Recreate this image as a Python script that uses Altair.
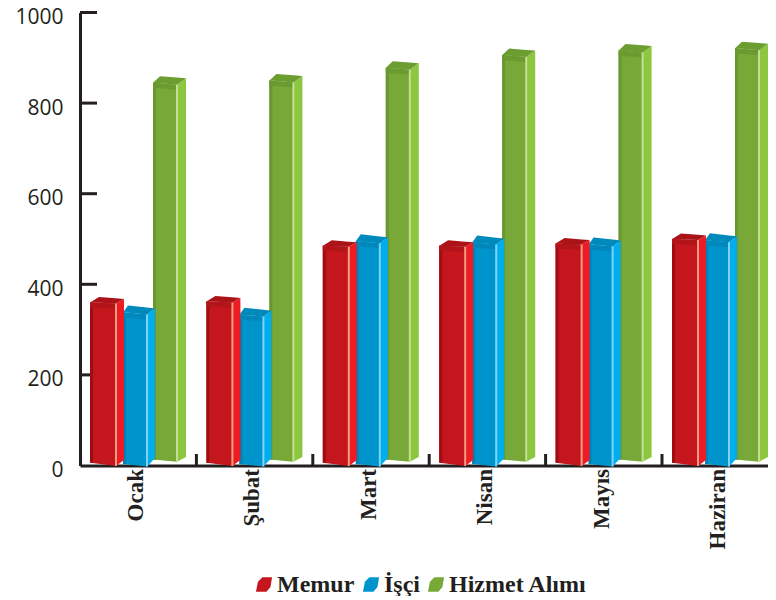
import altair as alt
import pandas as pd

categories = ["Ocak", "Şubat", "Mart", "Nisan", "Mayıs", "Haziran"]
memur = [360, 362, 485, 485, 490, 500]
isci = [338, 333, 495, 492, 488, 497]
hizmet = [845, 850, 878, 906, 916, 921]
y_ticks = [200, 400, 600, 800, 1000]

PITCH = 116.4          # px per category on the x scale
W, H = 688, 453
U = 1000 / H           # value units per px

# draw order is back to front; offsets are px from the start of each category
series = [
    ("Hizmet Alımı", hizmet, dict(x0=73, x1=97, x2=106, drop=2, bl=-6, br=-3.8, bs=-8.5, dx=7, up=6.5, upr=4.5)),
    ("İşçi", isci, dict(x0=43, x1=67, x2=75, drop=2, bl=-1.5, br=1, bs=-7.5, dx=5, up=7, upr=4)),
    ("Memur", memur, dict(x0=10, x1=36, x2=44, drop=1, bl=-2.8, br=0.5, bs=-5.5, dx=9, up=5.5, upr=3.5)),
]
palette = {
    "Memur": dict(front="#c4161c", left="#9d0e13", bevel="#b3141a", side="#ed1c24", top="#ab1318", stripe="#f59c82"),
    "İşçi": dict(front="#0094cc", left="#0081b5", bevel="#0088bd", side="#00aeef", top="#0089bb", stripe="#7dd4f7"),
    "Hizmet Alımı": dict(front="#77a838", left="#669731", bevel="#6a9a30", side="#8dc63f", top="#6c9d31", stripe="#c4df93"),
}

rows, domain, colors = [], [], []
for name, _, _ in series[::-1]:
    domain.append(name)
    colors.append(palette[name]["front"])
for name, _, _ in series[::-1]:
    for part in ["left", "bevel", "side", "top", "stripe"]:
        domain.append(f"{name} {part}")
        colors.append(palette[name][part])

poly = 0


def add(kind, columns):
    global poly
    poly += 1
    for px, top, bot in columns:
        rows.append(dict(poly=f"p{poly:04d}", kind=kind, x=px / PITCH, top=top, bot=bot))


for name, vals, g in series:
    for c, v in enumerate(vals):
        o = c * PITCH
        x0, x1, x2 = g["x0"] + o, g["x1"] + o, g["x2"] + o
        tl, tr = v, v - g["drop"] * U
        bl, br, bs = g["bl"] * -U, g["br"] * -U, g["bs"] * -U
        add(name, [(x0, tl, bl), (x1, tr, br)])
        slope = (tr - tl) / (x1 - x0)
        bslope = (br - bl) / (x1 - x0)
        # darker left edge
        add(f"{name} left", [(x0, tl, bl), (x0 + 3, tl + 3 * slope, bl + 3 * bslope)])
        # darker bevel under the top edge
        add(f"{name} bevel", [(x0, tl, tl - 5 * U), (x1, tr, tr - 5 * U)])
        # side face
        add(f"{name} side", [(x1, tr, br), (x2, tl + g["upr"] * U, bs)])
        # top face
        bx = x0 + g["dx"]
        back_l, back_r = tl + g["up"] * U, tl + g["upr"] * U
        at_bx_front = tl + (bx - x0) * slope
        back_x1 = back_l + (back_r - back_l) * (x1 - bx) / (x2 - bx)
        add(f"{name} top", [(x0, tl, tl), (bx, back_l, at_bx_front), (x1, back_x1, tr), (x2, back_r, back_r)])
        # light highlight between front and side
        add(f"{name} stripe", [(x1 - 1, tr, br), (x1 + 1, tr, br)])

faces = pd.DataFrame(rows)
x_scale = alt.Scale(domain=[0, W / PITCH], nice=False, zero=False)
y_scale = alt.Scale(domain=[0, 1000], nice=False)
INK = "#231f20"

base = alt.Chart(pd.DataFrame({"x": [0, W / PITCH], "y": [0, 0]})).mark_point(opacity=0).encode(
    x=alt.X("x:Q", scale=x_scale, title=None,
            axis=alt.Axis(ticks=False, labels=False, grid=False, domainWidth=3, domainColor=INK)),
    y=alt.Y("y:Q", scale=y_scale, title=None,
            axis=alt.Axis(values=[0] + y_ticks, format="d", ticks=False, grid=False, domainWidth=3, domainColor=INK,
                          labelFont="Open Sans", labelFontSize=21, labelColor=INK, labelPadding=17,
                          labelOffset=5, labelFlush=False, labelOverlap=False)),
)

ytick = alt.Chart(pd.DataFrame({"v": y_ticks, "a": 0.0, "b": 17 / PITCH})).mark_rule(
    strokeWidth=3, color=INK
).encode(x=alt.X("a:Q", scale=x_scale), x2="b:Q", y=alt.Y("v:Q", scale=y_scale))

xtick = alt.Chart(pd.DataFrame({"c": [1, 2, 3, 4, 5], "lo": 0.0, "hi": 11.5 * U})).mark_rule(
    strokeWidth=3, color=INK
).encode(x=alt.X("c:Q", scale=x_scale), y=alt.Y("lo:Q", scale=y_scale), y2="hi:Q")

bars = alt.Chart(faces).mark_area(orient="vertical", interpolate="linear", clip=False).encode(
    x=alt.X("x:Q", scale=x_scale),
    y=alt.Y("top:Q", scale=y_scale),
    y2="bot:Q",
    detail="poly:N",
    color=alt.Color(
        "kind:N",
        scale=alt.Scale(domain=domain, range=colors),
        legend=alt.Legend(
            values=["Memur", "İşçi", "Hizmet Alımı"], title=None, orient="none", direction="horizontal",
            legendX=172, legendY=560, labelFont="Liberation Serif", labelFontWeight="bold",
            labelFontSize=24, labelColor=INK, labelOffset=1, columnPadding=4, symbolSize=260,
            symbolStrokeWidth=0,
            symbolType="M-1,0.9 L-0.75,-0.35 L-0.2,-0.9 L1,-0.9 L0.8,0.3 L0.3,0.9 Z",
        ),
    ),
)

labels = alt.Chart(pd.DataFrame({"name": categories, "x": [(i * PITCH + 63) / PITCH for i in range(6)]})).mark_text(
    angle=270, align="right", baseline="alphabetic", font="Liberation Serif", fontWeight="bold",
    fontSize=23, color=INK
).encode(x=alt.X("x:Q", scale=x_scale), y=alt.value(456.5), text="name:N")

chart = alt.layer(base, ytick, xtick, bars, labels).properties(
    width=W, height=H,
    padding={"left": 72, "top": 4.5, "right": 0, "bottom": 130.5},
    autosize=alt.AutoSizeParams(type="none"),
).configure_view(stroke=None)

chart.save("out.html", embed_options={"renderer": "svg", "actions": False})
